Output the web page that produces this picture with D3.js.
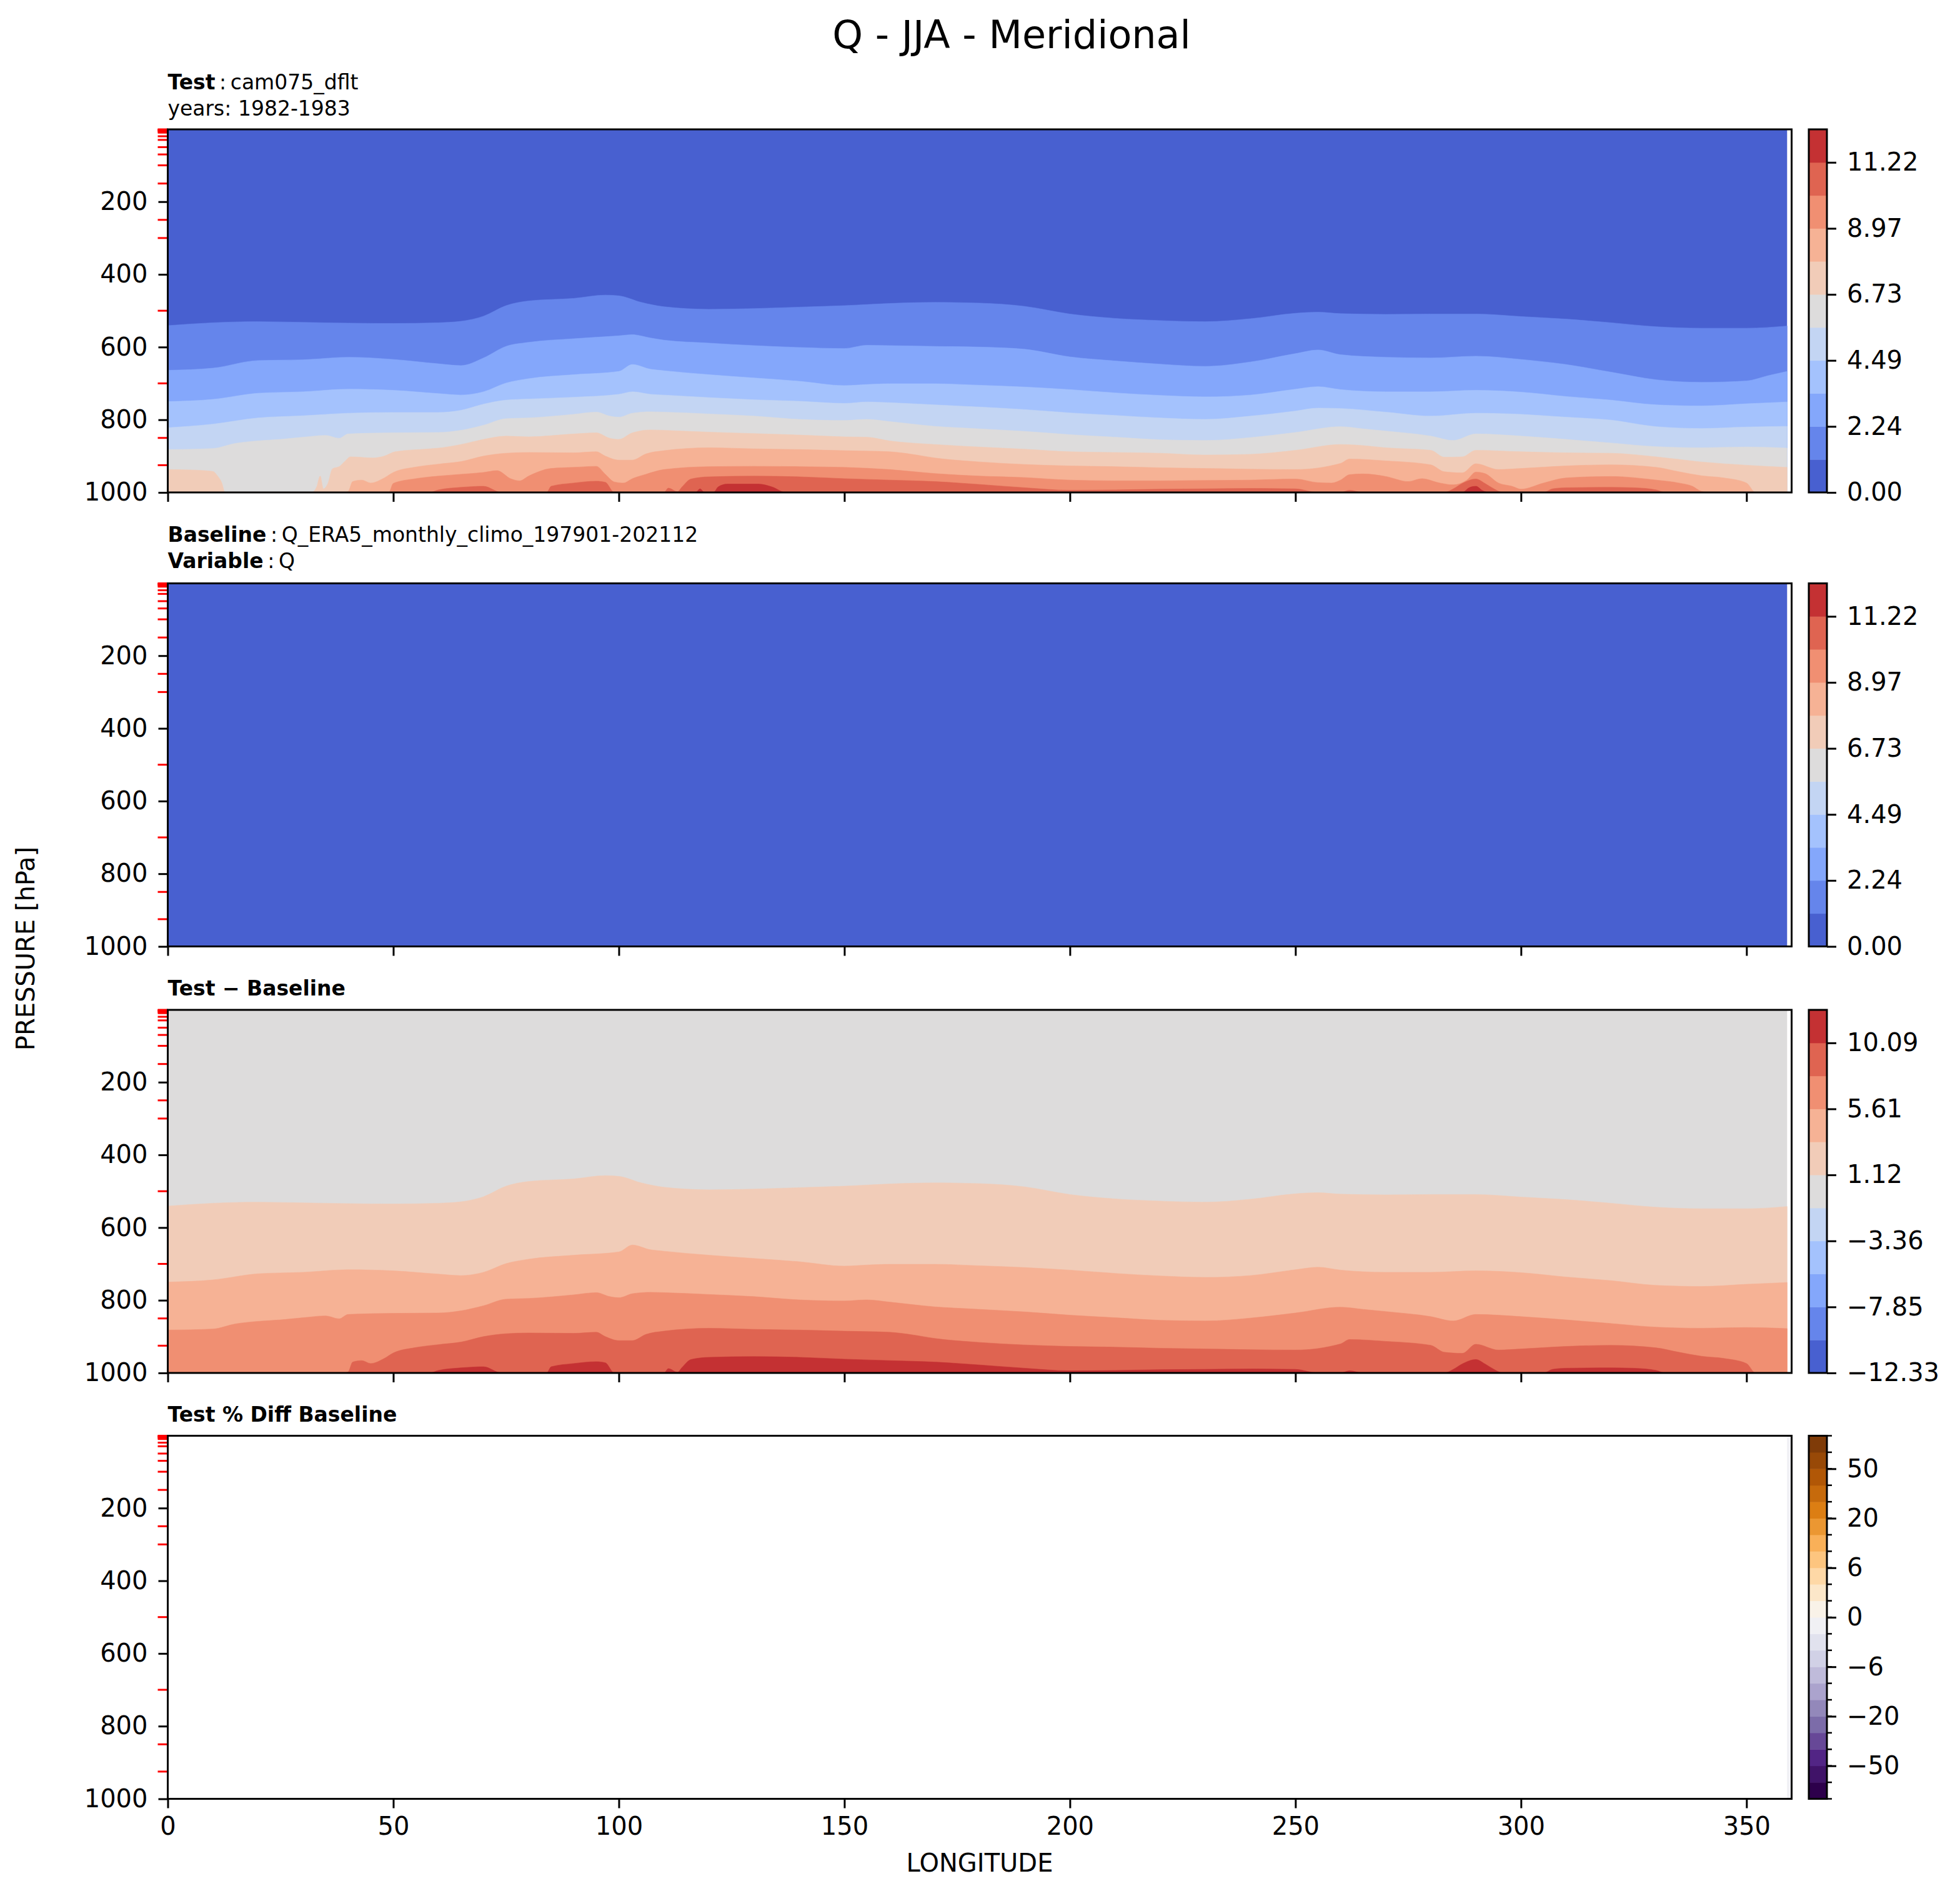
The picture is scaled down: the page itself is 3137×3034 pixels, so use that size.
<!DOCTYPE html>
<html>
<head>
<meta charset="utf-8">
<script src="https://cdn.jsdelivr.net/npm/d3@7"></script>
<style>
  body { margin: 0; background: #fff; }
  text { font-family: "DejaVu Sans", sans-serif; }
</style>
</head>
<body>
<div id="chart"></div>
<script>

// ---------------- data ----------------
var lonTicks = [0, 50, 100, 150, 200, 250, 300, 350];
var presTicks = [200, 400, 600, 800, 1000];
// model/reanalysis pressure levels (red minor ticks)
var presLevels = [1, 2, 3, 5, 7, 10, 20, 30, 50, 70, 100, 150, 200, 250, 300, 400, 500, 600, 700, 850, 925, 1000];
var lonLast = 359;   // last longitude holding data

var testLevels = [0, 1.12, 2.24, 3.37, 4.49, 5.61, 6.73, 7.85, 8.97, 10.09, 11.22, 12.34];
var testTickLabels = ["0.00", "2.24", "4.49", "6.73", "8.97", "11.22"];
var diffLevels = [-12.33, -10.09, -7.85, -5.61, -3.36, -1.12, 1.12, 3.36, 5.61, 7.85, 10.09, 12.33];
var diffTickLabels = ["\u221212.33", "\u22127.85", "\u22123.36", "1.12", "5.61", "10.09"];
var pctLevels = [-100, -75, -50, -40, -30, -20, -15, -10, -6, -4, -2, 0, 2, 4, 6, 10, 15, 20, 30, 40, 50, 75, 100];
var pctTickValues = [-50, -20, -6, 0, 6, 20, 50];
var pctTickLabels = ["\u221250", "\u221220", "\u22126", "0", "6", "20", "50"];

// pressure (hPa) where the test Q field crosses each contour level, [lon, p]
var cross_1_12 = [[0,541],[10,533],[20,530],[30,532],[40,534],[50,535],[60,533],[65,529],[70,515],[75,486],[80,473],[90,466],[97,457],[100,459],[105,477],[110,489],[120,496],[130,494],[140,490],[150,486],[160,480],[170,477],[180,479],[190,488],[200,509],[210,521],[220,527],[230,530],[240,522],[250,507],[255,504],[260,508],[270,510],[280,509],[290,509],[300,516],[310,523],[320,533],[330,544],[340,548],[350,548],[359,542]];
var cross_2_24 = [[0,664],[10,658],[20,637],[30,635],[40,628],[50,634],[60,646],[65,651],[70,630],[75,598],[80,587],[90,577],[100,569],[103,566],[107,575],[110,581],[120,589],[130,596],[140,601],[150,604],[155,595],[160,596],[170,598],[180,600],[190,606],[200,627],[210,638],[220,647],[230,653],[240,641],[250,618],[255,608],[260,621],[270,628],[280,630],[290,625],[300,634],[310,648],[320,669],[330,690],[340,697],[350,693],[355,678],[359,667]];
var cross_3_37 = [[0,750],[10,744],[20,727],[30,723],[40,716],[50,719],[60,728],[65,732],[70,723],[75,699],[80,687],[90,676],[100,667],[103,648],[107,661],[110,665],[120,676],[130,685],[140,694],[150,706],[155,703],[160,701],[170,701],[180,705],[190,710],[200,717],[210,726],[220,733],[230,737],[240,732],[250,716],[255,709],[260,717],[270,723],[280,723],[290,719],[300,724],[310,736],[320,746],[330,759],[340,762],[350,756],[359,751]];
var cross_4_49 = [[0,822],[10,812],[20,795],[30,789],[40,782],[50,780],[60,780],[65,774],[70,757],[75,746],[80,743],[90,738],[100,730],[103,723],[107,730],[110,732],[120,739],[130,745],[140,749],[150,755],[155,751],[160,753],[170,759],[180,765],[190,772],[200,781],[210,788],[220,795],[230,799],[240,790],[250,776],[255,768],[260,769],[270,779],[280,790],[290,782],[300,785],[310,793],[320,801],[330,819],[340,824],[350,820],[359,818]];
var cross_5_61 = [[0,882],[10,879],[15,865],[20,858],[25,854],[30,848],[35,843],[38,851],[40,839],[50,836],[60,835],[65,829],[70,815],[75,797],[80,795],[90,785],[95,779],[98,790],[100,793],[103,782],[107,778],[110,779],[120,784],[130,790],[140,799],[150,802],[155,799],[160,805],[170,818],[180,825],[190,832],[200,841],[210,848],[220,855],[230,857],[240,849],[250,835],[260,819],[265,825],[270,831],[280,845],[285,857],[290,839],[300,845],[310,854],[320,864],[330,874],[340,877],[350,875],[359,878]];
var cross_6_73 = [[0,937],[5,938],[10,942],[11,954],[12,974],[12.7,1000],[31.9,1000],[33,985],[33.8,955],[34.5,990],[35.5,975],[36.5,935],[38.1,928],[39.3,914],[40.5,902],[45.5,905],[48,900],[50.4,888],[58,880],[60,878],[65,868],[70,854],[75,845],[80,847],[90,839],[95,836],[98,851],[100,854],[103,836],[107,828],[110,829],[120,834],[130,838],[140,842],[150,847],[155,848],[160,858],[170,868],[180,875],[190,881],[200,888],[210,890],[220,892],[230,897],[240,895],[250,884],[260,868],[265,871],[270,877],[280,884],[283,903],[287,902],[290,884],[300,888],[310,891],[320,892],[330,902],[340,916],[350,925],[359,931]];
var cross_7_85 = [[0,1000],[39,1000],[40,997],[41,970],[43,966],[45,974],[48,960],[50,945],[55,930],[60,922],[65,915],[70,900],[75,892],[80,890],[90,891],[95,888],[97,900],[100,911],[103,911],[106,894],[110,885],[120,877],[130,880],[140,882],[150,885],[160,888],[165,895],[170,905],[180,916],[190,923],[200,927],[210,929],[220,932],[230,934],[240,936],[250,937],[260,920],[262,908],[270,913],[280,924],[283,943],[287,946],[290,921],[295,937],[300,934],[310,927],[320,924],[330,931],[335,943],[340,954],[345,960],[350,974],[352,1000],[359,1000]];
var cross_8_97 = [[0,1000],[49,1000],[50,975],[55,962],[60,955],[65,950],[70,945],[73,940],[76,962],[78,968],[80,955],[85,934],[90,931],[95,928],[97,950],[99,971],[101,974],[103,962],[106,950],[110,937],[120,929],[130,928],[140,929],[150,931],[160,937],[170,948],[180,955],[190,959],[200,966],[210,968],[220,968],[230,967],[240,966],[250,963],[255,973],[258,974],[260,966],[262,951],[265,949],[270,956],[275,970],[278,962],[282,974],[285,979],[288,966],[290,944],[292,948],[295,974],[298,983],[300,991],[305,974],[310,960],[320,956],[330,966],[335,974],[338,983],[340,997],[342,1000],[359,1000]];
var cross_10_09 = [[0,1000],[58,1000],[60,993],[65,986],[70,983],[74,1000],[84,1000],[85,983],[90,974],[95,969],[97,972],[99,1000],[110,1000],[111,988],[113,998],[114,985],[116,963],[120,957],[130,955],[140,957],[150,962],[160,966],[170,970],[180,978],[190,987],[200,994],[210,993],[220,991],[230,990],[240,989],[250,990],[255,1000],[260,1000],[262,994],[265,1000],[283,1000],[285,990],[287,975],[290,963],[292,975],[294,990],[296,1000],[305,1000],[307,990],[310,987],[320,986],[325,987],[330,993],[332,1000],[359,1000]];
var cross_11_22 = [[0,1000],[117,1000],[118,990],[119,1000],[121,1000],[122,985],[124,977],[131,977],[134,985],[137,1000],[287,1000],[288.5,987],[290,983],[291.5,995],[293,1000],[359,1000]];

var testCrossings = [cross_1_12, cross_2_24, cross_3_37, cross_4_49, cross_5_61,
                     cross_6_73, cross_7_85, cross_8_97, cross_10_09, cross_11_22];

var baselineQ = 0;                 // ERA5 field sits in the lowest bin everywhere
var pctEdge = [[359, 360, -1]];    // [lon from, lon to, % diff] only column with a value

// ---------------- colours ----------------
var coolwarmBins = ["#4860d0", "#6585eb", "#84a7fb", "#a4c2fd", "#c3d5f3", "#dddcdc",
                    "#f1ccb8", "#f6b295", "#f08f72", "#df6451", "#c43133"];
var puorStops = ["#2d004b", "#542788", "#8073ac", "#b2abd2", "#d8daeb", "#f7f7f7",
                 "#fee0b6", "#fdb863", "#e08214", "#b35806", "#7f3b08"];
var puor = d3.scaleLinear().domain(d3.range(11).map(function(i){ return i / 10; })).range(puorStops);
var pctBins = d3.range(pctLevels.length - 1).map(function(i){ return puor(i / (pctLevels.length - 2)); });

// ---------------- layout ----------------
var svgWidth = 3137, svgHeight = 3034;
var plotLeft = 268.5, plotRight = 2867.5, plotH = 581;
var panelTops = [207, 933.5, 1616, 2297.5];
var cbLeft = 2895, cbWidth = 29;

var svg = d3.select("#chart").append("svg")
    .attr("width", svgWidth)
    .attr("height", svgHeight)
    .style("background", "#fff");

var x = d3.scaleLinear().domain([0, 360]).range([plotLeft, plotRight]);

svg.append("text")
    .attr("x", 1619).attr("y", 77)
    .attr("text-anchor", "middle")
    .attr("font-size", "62px")
    .text("Q - JJA - Meridional");

function yScale(top) {
    return d3.scaleLinear().domain([1, 1000]).range([top, top + plotH]);
}

// crossings of (test - offset) for each level of a colour scale
function fieldLayers(levels, offset) {
    var layers = [];
    levels.forEach(function(L, i) {
        var j = testLevels.findIndex(function(t){ return Math.abs(t - (L + offset)) < 0.05; });
        if (j > 0 && testCrossings[j - 1]) layers.push({bin: i, pts: testCrossings[j - 1]});
    });
    return layers;
}

function drawField(g, y, levels, colors, offset) {
    var baseBin = d3.bisectRight(levels, (testLevels[0] + testLevels[1]) / 2 - offset) - 1;
    g.append("rect")
        .attr("x", x(0)).attr("width", x(lonLast) - x(0))
        .attr("y", y(1)).attr("height", y(1000) - y(1))
        .attr("fill", colors[baseBin]);

    var area = d3.area()
        .x(function(d){ return x(d[0]); })
        .y0(y(1000))
        .y1(function(d){ return y(d[1]); })
        .curve(d3.curveMonotoneX);

    fieldLayers(levels, offset).forEach(function(l) {
        g.append("path").datum(l.pts)
            .attr("d", area)
            .attr("fill", colors[l.bin])
            .attr("stroke", colors[l.bin])
            .attr("stroke-width", 0.6);
    });
}

function drawAxes(g, y, top, showX) {
    var xa = g.append("g")
        .attr("transform", "translate(0," + (top + plotH) + ")")
        .call(d3.axisBottom(x).tickValues(lonTicks).tickSize(15).tickPadding(14)
              .tickFormat(showX ? d3.format("d") : function(){ return ""; }));
    var ya = g.append("g")
        .attr("transform", "translate(" + plotLeft + ",0)")
        .call(d3.axisLeft(y).tickValues(presTicks).tickSize(15).tickPadding(17)
              .tickFormat(d3.format("d")));
    [xa, ya].forEach(function(a) {
        a.select(".domain").remove();
        a.selectAll("line").attr("stroke", "#000").attr("stroke-width", 3);
        a.selectAll("text").attr("font-size", "40px").attr("fill", "#000")
            .style("font-family", "DejaVu Sans");
    });

    // data levels as red minor ticks
    g.selectAll(".lev").data(presLevels.filter(function(p){ return presTicks.indexOf(p) < 0; }))
        .enter().append("line")
        .attr("x1", plotLeft - 16).attr("x2", plotLeft)
        .attr("y1", function(d){ return y(d); })
        .attr("y2", function(d){ return y(d); })
        .attr("stroke", "red").attr("stroke-width", 3);

    g.append("rect")
        .attr("x", plotLeft).attr("y", top)
        .attr("width", plotRight - plotLeft).attr("height", plotH)
        .attr("fill", "none").attr("stroke", "#000").attr("stroke-width", 3);
}

function drawColorbar(top, nBins, colorOf, tickIdx, tickLabels, minorIdx) {
    var cy = d3.scaleLinear().domain([0, nBins]).range([top + plotH, top]);
    var g = svg.append("g");
    g.selectAll("rect.bin").data(d3.range(nBins)).enter().append("rect")
        .attr("x", cbLeft).attr("width", cbWidth)
        .attr("y", function(i){ return cy(i + 1); })
        .attr("height", function(i){ return cy(i) - cy(i + 1) + 0.5; })
        .attr("fill", function(i){ return colorOf(i); });
    if (minorIdx) {
        g.selectAll("line.minor").data(minorIdx).enter().append("line")
            .attr("x1", cbLeft + cbWidth).attr("x2", cbLeft + cbWidth + 8)
            .attr("y1", function(d){ return cy(d); }).attr("y2", function(d){ return cy(d); })
            .attr("stroke", "#000").attr("stroke-width", 2.5);
    }
    var ax = g.append("g")
        .attr("transform", "translate(" + (cbLeft + cbWidth) + ",0)")
        .call(d3.axisRight(cy).tickValues(tickIdx).tickSize(15).tickPadding(17)
              .tickFormat(function(d, i){ return tickLabels[i]; }));
    ax.select(".domain").remove();
    ax.selectAll("line").attr("stroke", "#000").attr("stroke-width", 3);
    ax.selectAll("text").attr("font-size", "40px").attr("fill", "#000")
        .style("font-family", "DejaVu Sans");
    g.append("rect")
        .attr("x", cbLeft).attr("y", top)
        .attr("width", cbWidth).attr("height", plotH)
        .attr("fill", "none").attr("stroke", "#000").attr("stroke-width", 3);
}

function panelTitle(lines, yBase) {
    lines.forEach(function(parts, k) {
        var t = svg.append("text")
            .attr("x", plotLeft).attr("y", yBase + k * 42)
            .attr("font-size", "33px");
        parts.forEach(function(p) {
            t.append("tspan").attr("font-weight", p[1] ? "bold" : "normal").text(p[0]);
        });
    });
}

// ---- panel 1: test ----
var y1 = yScale(panelTops[0]);
var g1 = svg.append("g");
drawField(g1, y1, testLevels, coolwarmBins, 0);
drawAxes(g1, y1, panelTops[0], false);
panelTitle([[["Test", true], ["\u2009:\u2009cam075_dflt", false]], [["years: 1982-1983", false]]], 143);
drawColorbar(panelTops[0], 11, function(i){ return coolwarmBins[i]; }, [0, 2, 4, 6, 8, 10], testTickLabels);

// ---- panel 2: baseline ----
var y2 = yScale(panelTops[1]);
var g2 = svg.append("g");
g2.append("rect")
    .attr("x", x(0)).attr("width", x(lonLast) - x(0))
    .attr("y", y2(1)).attr("height", y2(1000) - y2(1))
    .attr("fill", coolwarmBins[d3.bisectRight(testLevels, baselineQ) - 1]);
drawAxes(g2, y2, panelTops[1], false);
panelTitle([[["Baseline", true], ["\u2009:\u2009Q_ERA5_monthly_climo_197901-202112", false]], [["Variable", true], ["\u2009:\u2009Q", false]]], 867);
drawColorbar(panelTops[1], 11, function(i){ return coolwarmBins[i]; }, [0, 2, 4, 6, 8, 10], testTickLabels);

// ---- panel 3: test - baseline ----
var y3 = yScale(panelTops[2]);
var g3 = svg.append("g");
drawField(g3, y3, diffLevels, coolwarmBins, baselineQ);
drawAxes(g3, y3, panelTops[2], false);
panelTitle([[["Test \u2212 Baseline", true]]], 1593);
drawColorbar(panelTops[2], 11, function(i){ return coolwarmBins[i]; }, [0, 2, 4, 6, 8, 10], diffTickLabels);

// ---- panel 4: percent difference ----
var y4 = yScale(panelTops[3]);
var g4 = svg.append("g");
g4.selectAll("rect.edge").data(pctEdge).enter().append("rect")
    .attr("x", function(d){ return x(d[0]); })
    .attr("width", function(d){ return x(d[1]) - x(d[0]); })
    .attr("y", y4(1)).attr("height", y4(1000) - y4(1))
    .attr("fill", function(d){ return pctBins[d3.bisectRight(pctLevels, d[2]) - 1]; });
drawAxes(g4, y4, panelTops[3], true);
panelTitle([[["Test % Diff Baseline", true]]], 2275);
drawColorbar(panelTops[3], pctLevels.length - 1, function(i){ return pctBins[i]; },
    pctTickValues.map(function(v){ return pctLevels.indexOf(v); }), pctTickLabels,
    d3.range(pctLevels.length));

// axis labels
svg.append("text")
    .attr("x", (plotLeft + plotRight) / 2).attr("y", 2995)
    .attr("text-anchor", "middle").attr("font-size", "40px")
    .text("LONGITUDE");
svg.append("text")
    .attr("transform", "translate(55,1518) rotate(-90)")
    .attr("text-anchor", "middle").attr("font-size", "40px")
    .text("PRESSURE [hPa]");

</script>
</body>
</html>
